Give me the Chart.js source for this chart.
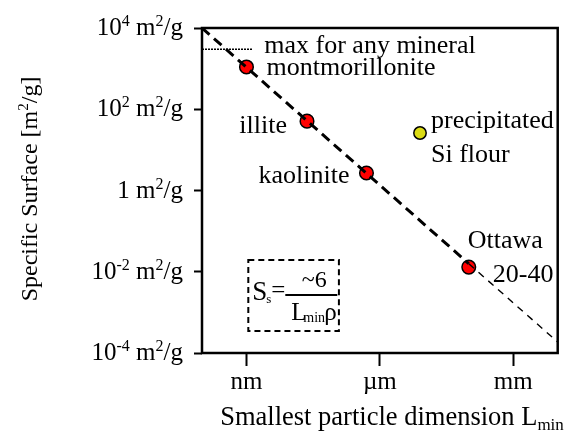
<!DOCTYPE html>
<html>
<head>
<meta charset="utf-8">
<script src="https://cdn.jsdelivr.net/npm/chart.js@4.4.1/dist/chart.umd.min.js"></script>
<style>
html, body { margin: 0; padding: 0; background: #fff; }
#wrap { width: 566px; height: 435px; }
</style>
</head>
<body>
<div id="wrap"><canvas id="surfaceChart" width="566" height="435"></canvas></div>
<script>
// Axis ticks
var sizeTicks = [1e-9, 1e-6, 1e-3];
var sizeTickLabels = ['nm', 'µm', 'mm'];
var surfaceTicks = [1e-4, 1e-2, 1, 1e2, 1e4];
var surfaceTickLabels = ['10^{-4} m^{2}/g', '10^{-2} m^{2}/g', '1 m^{2}/g', '10^{2} m^{2}/g', '10^{4} m^{2}/g'];

// Minerals (smallest dimension in m, specific surface in m2/g)
var mineralNames = ['montmorillonite', 'illite', 'kaolinite', 'Ottawa 20-40'];
var mineralSize = [1.0e-9, 2.3e-8, 5.0e-7, 1.0e-4];
var mineralSurface = [1100, 51, 2.7, 0.013];

var flourNames = ['precipitated Si flour'];
var flourSize = [8.0e-6];
var flourSurface = [26];

// Ss ~ 6 / (Lmin rho) trend
var trendSize = [1e-10, 1e-4];
var trendSurface = [10000, 0.0158];
var trendTailSize = [1e-4, 1e-2];
var trendTailSurface = [0.0158, 0.000186];

// max for any mineral
var maxSize = [1e-10, 1.35e-9];
var maxSurface = [3000, 3000];

var FONT = '"Liberation Serif", "Times New Roman", serif';

function pts(xs, ys) {
    return xs.map(function(x, i) { return { x: x, y: ys[i] }; });
}

// parse "a^{b}c_{d}" into parts
function parseRich(str) {
    var parts = [];
    var re = /([\^_])\{([^}]*)\}/g;
    var last = 0, m;
    while ((m = re.exec(str)) !== null) {
        if (m.index > last) parts.push({ t: str.slice(last, m.index), mode: 'n' });
        parts.push({ t: m[2], mode: m[1] === '^' ? 'sup' : 'sub' });
        last = re.lastIndex;
    }
    if (last < str.length) parts.push({ t: str.slice(last), mode: 'n' });
    return parts;
}

function drawRich(ctx, str, x, y, size, align) {
    var parts = parseRich(str);
    var small = Math.round(size * 0.64);
    var total = 0;
    parts.forEach(function(p) {
        ctx.font = (p.mode === 'n' ? size : small) + 'px ' + FONT;
        p.w = ctx.measureText(p.t).width;
        total += p.w;
    });
    var cx = x;
    if (align === 'right') cx = x - total;
    else if (align === 'center') cx = x - total / 2;
    ctx.textAlign = 'left';
    ctx.textBaseline = 'alphabetic';
    parts.forEach(function(p) {
        ctx.font = (p.mode === 'n' ? size : small) + 'px ' + FONT;
        var dy = p.mode === 'sup' ? -size * 0.36 : (p.mode === 'sub' ? size * 0.18 : 0);
        ctx.fillText(p.t, cx, y + dy);
        cx += p.w;
    });
}

// label offsets in px from the data point
var pointLabels = [
    { ds: 3, i: 0, text: 'montmorillonite', dx: 20, dy: 8, align: 'left' },
    { ds: 3, i: 1, text: 'illite', dx: -20, dy: 12, align: 'right' },
    { ds: 3, i: 2, text: 'kaolinite', dx: -17, dy: 10, align: 'right' },
    { ds: 3, i: 3, text: 'Ottawa', dx: -1, dy: -19, align: 'left' },
    { ds: 3, i: 3, text: '20-40', dx: 24, dy: 15, align: 'left' },
    { ds: 4, i: 0, text: 'precipitated', dx: 11, dy: -5, align: 'left' },
    { ds: 4, i: 0, text: 'Si flour', dx: 11, dy: 29, align: 'left' },
    { ds: 2, i: 1, text: 'max for any mineral', dx: 12, dy: 4, align: 'left' }
];

var overlay = {
    id: 'overlay',
    afterDraw: function(chart) {
        var ctx = chart.ctx;
        var a = chart.chartArea;
        var xs = chart.scales.x, ys = chart.scales.y;
        ctx.save();
        ctx.fillStyle = '#000';
        ctx.strokeStyle = '#000';

        // frame
        ctx.lineWidth = 2.5;
        ctx.setLineDash([]);
        ctx.strokeRect(a.left, a.top, a.right - a.left, a.bottom - a.top);

        // y tick labels
        surfaceTicks.forEach(function(v, i) {
            drawRich(ctx, surfaceTickLabels[i], a.left - 19, ys.getPixelForValue(v) + 7, 25, 'right');
        });

        // axis titles
        drawRich(ctx, 'Smallest particle dimension L_{min}', 392, 425, 26.5, 'center');
        ctx.save();
        ctx.translate(37, 189);
        ctx.rotate(-Math.PI / 2);
        drawRich(ctx, 'Specific Surface [m^{2}/g]', 0, 0, 24, 'center');
        ctx.restore();

        // point labels
        pointLabels.forEach(function(l) {
            var el = chart.getDatasetMeta(l.ds).data[l.i];
            ctx.font = '26px ' + FONT;
            ctx.textAlign = l.align;
            ctx.textBaseline = 'alphabetic';
            ctx.fillText(l.text, el.x + l.dx, el.y + l.dy);
        });

        // formula box
        var bx = xs.getPixelForValue(1.1e-9), bx2 = xs.getPixelForValue(1.2e-7);
        var by = ys.getPixelForValue(0.0195), by2 = ys.getPixelForValue(0.00035);
        ctx.lineWidth = 2;
        ctx.setLineDash([6, 4]);
        ctx.strokeRect(bx, by, bx2 - bx, by2 - by);
        ctx.setLineDash([]);
        ctx.textAlign = 'left';
        ctx.font = '27px ' + FONT;
        ctx.fillText('S', bx + 4, by + 40);
        ctx.font = '13px ' + FONT;
        ctx.fillText('s', bx + 18, by + 43);
        ctx.font = '25px ' + FONT;
        ctx.fillText('=', bx + 23, by + 38);
        ctx.lineWidth = 2;
        ctx.beginPath();
        ctx.moveTo(bx + 37, by + 35);
        ctx.lineTo(bx + 89, by + 35);
        ctx.stroke();
        ctx.font = '24px ' + FONT;
        ctx.textAlign = 'center';
        ctx.fillText('~6', bx + 66, by + 27);
        ctx.textAlign = 'left';
        ctx.font = '25px ' + FONT;
        ctx.fillText('L', bx + 43, by + 60);
        ctx.font = '14px ' + FONT;
        ctx.fillText('min', bx + 55, by + 62);
        ctx.font = '25px ' + FONT;
        ctx.fillText('ρ', bx + 76, by + 60);

        ctx.restore();
    }
};

function tickIndex(list, v) {
    for (var i = 0; i < list.length; i++) {
        if (Math.abs(Math.log10(v) - Math.log10(list[i])) < 1e-6) return i;
    }
    return -1;
}

new Chart(document.getElementById('surfaceChart'), {
    type: 'scatter',
    data: {
        datasets: [{
            data: pts(trendSize, trendSurface),
            showLine: true,
            borderColor: '#000',
            borderWidth: 3,
            borderDash: [10, 6],
            pointRadius: 0
        }, {
            data: pts(trendTailSize, trendTailSurface),
            showLine: true,
            borderColor: '#000',
            borderWidth: 1.4,
            borderDash: [7, 6],
            pointRadius: 0
        }, {
            data: pts(maxSize, maxSurface),
            showLine: true,
            borderColor: '#000',
            borderWidth: 1.5,
            borderDash: [2, 1],
            pointRadius: 0
        }, {
            label: 'minerals',
            data: pts(mineralSize, mineralSurface),
            backgroundColor: '#ff0000',
            borderColor: '#000',
            borderWidth: 1.5,
            pointRadius: 6.8
        }, {
            label: 'Si flour',
            data: pts(flourSize, flourSurface),
            backgroundColor: '#dcdc14',
            borderColor: '#000',
            borderWidth: 1.5,
            pointRadius: 6.2
        }]
    },
    options: {
        responsive: false,
        animation: false,
        devicePixelRatio: 1,
        layout: {
            padding: { top: 28, right: 3, left: 0, bottom: 0 }
        },
        plugins: {
            legend: { display: false },
            tooltip: { enabled: false }
        },
        scales: {
            x: {
                type: 'logarithmic',
                position: 'bottom',
                min: 1e-10,
                max: 1e-2,
                border: { display: false },
                grid: {
                    drawOnChartArea: false,
                    tickLength: 13,
                    tickWidth: 2,
                    color: '#000'
                },
                ticks: {
                    autoSkip: false,
                    maxRotation: 0,
                    padding: 1,
                    color: '#000',
                    font: { family: FONT, size: 25 },
                    callback: function(value) {
                        var i = tickIndex(sizeTicks, value);
                        return i >= 0 ? sizeTickLabels[i] : '';
                    }
                },
                afterBuildTicks: function(scale) {
                    scale.ticks = sizeTicks.map(function(v) { return { value: v }; });
                },
                afterFit: function(scale) {
                    scale.height = 82;
                }
            },
            y: {
                type: 'logarithmic',
                min: 1e-4,
                max: 1e4,
                border: { display: false },
                grid: {
                    drawOnChartArea: false,
                    tickLength: 8,
                    tickWidth: 2,
                    color: '#000'
                },
                ticks: {
                    display: false
                },
                afterBuildTicks: function(scale) {
                    scale.ticks = surfaceTicks.map(function(v) { return { value: v }; });
                },
                afterFit: function(scale) {
                    scale.width = 202;
                }
            }
        }
    },
    plugins: [overlay]
});
</script>
</body>
</html>
